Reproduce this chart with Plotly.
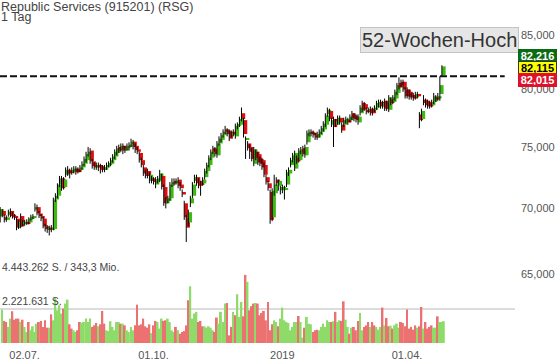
import math
import pandas as pd
import plotly.graph_objects as go

# ---------------- data ----------------
HOLIDAYS = ["2018-07-04", "2018-09-03", "2018-11-22", "2018-12-05", "2018-12-25",
            "2019-01-01", "2019-01-21", "2019-02-18", "2019-04-19"]
DATES = list(pd.bdate_range("2018-06-15", "2019-04-26", freq="C", holidays=HOLIDAYS).strftime("%Y-%m-%d"))

TICK_DATES = ["2018-07-02", "2018-10-01", "2019-01-02", "2019-04-01"]
TICK_LABELS = ["02.07.", "01.10.", "2019", "01.04."]

OPEN = [69.38,69.80,69.30,69.10,69.50,69.80,69.50,69.40,69.20,68.55,
69.40,68.80,68.80,68.95,68.90,69.20,69.30,69.90,70.10,69.60,
69.40,69.20,68.60,68.35,68.50,68.35,68.40,70.70,71.00,71.90,
72.40,71.70,72.70,73.10,73.00,72.90,73.00,73.20,73.10,73.10,
73.30,73.60,73.90,74.40,74.70,73.80,73.50,73.30,73.50,73.40,
73.30,73.10,73.30,73.50,73.60,73.90,74.20,74.50,75.00,74.80,
75.10,74.70,74.90,75.00,75.20,75.45,75.10,74.80,74.50,73.90,
73.30,72.90,73.00,72.20,72.40,72.30,71.90,72.20,72.30,72.60,
71.70,70.40,70.60,70.80,71.90,72.20,72.10,72.30,71.90,71.30,
70.40,69.30,68.90,70.40,71.00,72.20,72.50,72.20,72.00,72.00,
72.50,73.00,73.50,74.10,74.90,74.80,74.30,75.30,75.60,76.00,
76.50,76.40,76.30,76.00,76.30,75.90,76.80,76.90,77.90,77.30,
75.60,75.30,75.00,74.70,73.60,74.60,74.40,74.00,73.90,73.50,
72.50,72.00,71.30,69.30,71.20,72.30,71.80,71.45,71.45,71.50,
71.90,72.80,73.50,73.90,73.20,74.10,73.90,74.60,74.90,74.30,
75.40,76.10,76.30,76.20,76.00,75.80,76.00,76.30,76.50,76.90,
77.80,78.10,76.90,77.40,76.90,77.10,77.50,76.90,76.90,77.20,
77.30,77.30,77.90,77.70,77.60,77.10,77.90,78.80,78.70,78.20,
78.10,78.30,78.20,78.20,78.40,78.60,78.90,78.50,79.00,78.80,
78.20,79.10,78.90,79.20,79.70,80.60,80.70,80.70,80.00,80.00,
79.80,79.50,79.50,79.30,79.60,77.80,77.40,79.10,79.00,78.90,
78.80,78.60,78.90,79.30,79.20,79.60,81.30]

HIGH = [70.10,69.95,69.50,69.45,69.90,70.00,69.70,69.55,69.30,69.10,
69.60,69.10,69.10,69.15,69.30,69.50,69.55,70.40,70.30,69.80,
69.55,69.35,68.80,68.70,68.65,68.70,70.85,71.20,72.00,72.60,
72.60,72.50,73.30,73.40,73.20,73.30,73.40,73.40,73.30,73.50,
73.80,74.20,74.60,75.00,74.90,74.00,73.70,73.70,73.70,73.60,
73.50,73.50,73.70,73.80,74.10,74.40,74.80,75.10,75.20,75.30,
75.30,75.10,75.30,75.40,75.70,75.60,75.30,75.00,74.60,74.10,
73.50,73.10,73.20,72.90,72.60,72.50,72.50,72.60,73.10,72.80,
71.90,70.90,71.00,72.10,72.40,72.40,72.40,72.50,72.10,71.50,
70.60,69.50,69.90,71.00,72.10,72.70,72.70,72.40,72.20,72.50,
73.20,73.70,74.30,74.80,75.10,75.00,75.50,75.90,76.20,76.50,
76.80,76.60,76.50,76.40,76.50,77.00,77.10,77.60,78.40,77.50,
75.90,75.50,75.20,74.90,75.00,74.80,74.60,74.20,74.10,73.70,
72.70,72.20,71.50,71.60,72.70,72.50,72.30,71.80,71.90,71.80,
73.10,73.30,74.10,74.50,74.70,74.30,74.90,75.00,75.10,75.20,
76.40,76.50,76.50,76.40,76.20,76.30,76.50,76.80,77.20,77.90,
78.40,78.30,77.50,77.60,77.40,77.70,77.70,77.10,77.50,77.60,
77.50,77.80,78.10,77.90,77.80,77.80,78.60,79.00,78.90,78.40,
78.40,78.50,78.40,78.60,79.00,79.10,79.10,79.00,79.20,79.00,
79.50,79.30,79.50,80.00,80.60,81.10,80.90,80.90,80.20,80.20,
80.00,79.70,79.70,79.80,79.80,78.00,78.30,79.50,79.20,79.10,
79.00,79.10,79.70,79.50,79.70,81.20,82.216]

LOW = [68.90,69.30,68.90,68.95,69.35,69.30,69.20,69.10,68.30,68.40,
68.45,68.60,68.65,68.70,68.75,69.05,69.15,69.75,69.45,69.25,
69.00,68.45,68.20,68.10,67.90,68.15,68.30,70.50,70.80,71.70,
71.40,71.50,72.50,72.60,72.40,72.70,72.80,72.70,72.80,72.90,
73.10,73.40,73.70,74.20,73.60,73.20,73.10,73.10,73.00,72.80,
72.90,72.90,73.10,73.30,73.40,73.70,74.00,74.30,74.50,74.60,
74.40,74.50,74.70,74.70,75.00,74.80,74.50,74.40,73.70,73.30,
72.60,72.40,72.40,72.00,72.00,71.90,71.60,72.00,72.10,71.50,
70.20,70.00,70.40,70.60,71.70,71.80,71.90,71.60,71.40,70.90,
69.10,67.40,68.60,70.10,70.80,72.00,71.80,71.60,71.00,71.80,
72.30,72.80,73.30,73.90,74.40,74.20,74.10,75.10,75.40,75.80,
76.10,75.90,75.50,75.80,75.90,75.70,76.50,76.70,77.20,75.80,
74.00,74.70,74.00,73.80,73.40,73.90,73.50,73.40,73.10,72.50,
71.90,71.40,68.80,69.00,71.00,71.80,71.40,71.10,71.20,70.70,
71.70,72.60,73.30,73.70,73.00,73.60,73.70,74.40,74.20,74.10,
75.20,75.90,75.90,75.80,75.60,75.60,75.80,76.10,76.30,76.70,
77.60,77.20,76.70,75.00,76.70,76.90,76.90,76.20,76.70,77.00,
76.90,77.10,77.30,77.20,77.10,76.90,77.70,78.00,78.10,77.80,
77.90,77.70,77.70,78.00,78.20,78.40,78.30,78.30,78.10,78.10,
78.00,78.60,78.70,79.00,79.50,80.00,80.20,79.80,79.20,79.20,
79.10,79.10,79.00,79.10,79.20,76.60,77.20,78.60,78.40,78.30,
78.30,78.40,78.70,78.90,79.00,79.00,81.20]

CLOSE = [69.93,69.45,69.10,69.30,69.75,69.40,69.30,69.30,68.50,68.95,
68.60,68.90,68.95,68.85,69.20,69.35,69.40,70.10,69.60,69.40,
69.20,68.60,68.40,68.50,68.35,68.50,70.70,71.00,71.90,72.40,
71.60,72.30,73.10,72.80,72.85,73.10,73.20,72.90,73.00,73.30,
73.60,74.00,74.40,74.60,73.80,73.40,73.30,73.50,73.30,73.10,
73.10,73.30,73.50,73.60,73.90,74.20,74.60,74.90,74.70,75.10,
74.70,74.90,75.10,75.20,75.45,75.00,74.75,74.60,73.90,73.50,
72.80,72.60,72.60,72.70,72.20,72.10,72.30,72.40,72.80,71.70,
70.40,70.70,70.80,71.90,72.10,72.00,72.20,71.80,71.60,71.10,
69.30,68.50,69.70,70.80,71.90,72.50,72.00,71.80,71.90,72.30,
73.00,73.50,74.10,74.60,74.60,74.40,75.30,75.70,76.00,76.30,
76.30,76.10,75.70,76.20,76.10,76.80,76.90,77.40,77.40,76.10,
75.70,74.90,74.60,74.00,74.80,74.10,73.70,73.60,73.30,72.70,
72.10,71.60,69.10,71.40,71.90,72.00,72.20,71.70,71.70,71.60,
72.90,73.10,73.90,74.30,74.50,73.80,74.70,74.80,74.40,75.00,
76.20,76.30,76.10,76.00,75.80,76.10,76.30,76.60,77.00,77.70,
78.20,77.40,77.30,76.70,77.20,77.50,77.10,76.40,77.30,77.40,
77.10,77.60,77.50,77.40,77.30,77.60,78.40,78.20,78.30,78.00,
78.25,77.90,77.90,78.40,78.80,78.90,78.50,78.80,78.30,78.30,
79.30,78.80,79.30,79.80,80.40,80.20,80.40,80.00,79.40,79.40,
79.30,79.30,79.20,79.60,79.40,77.30,78.10,78.80,78.60,78.50,
78.50,78.90,79.40,79.10,79.40,80.40,82.115]

# volume in millions of shares
VOLUME_M = [2.18,1.44,1.37,1.05,1.59,2.07,1.52,1.59,1.59,1.37,
1.52,1.05,0.72,1.37,0.83,1.09,0.72,1.26,1.37,1.44,
1.05,1.48,1.00,1.00,1.87,1.48,2.96,2.13,2.46,
1.92,2.24,2.57,2.83,1.22,0.94,0.83,0.72,0.83,1.37,
1.31,1.37,1.59,1.37,1.59,1.05,1.15,1.31,1.09,1.22,
2.09,1.26,0.83,0.78,1.42,1.05,0.83,1.37,1.37,
1.26,1.26,1.15,0.83,0.72,1.05,0.83,1.15,2.50,1.15,
1.22,1.59,1.09,1.00,1.22,0.65,1.15,1.44,1.37,0.94,
1.59,1.44,1.48,1.59,1.37,0.83,0.72,1.05,0.83,
0.61,0.72,0.78,1.15,2.79,3.70,1.59,1.92,2.03,1.37,
1.44,1.09,1.09,1.00,1.09,1.00,0.83,0.72,1.66,1.26,
2.03,1.37,2.57,2.61,0.50,1.05,2.03,1.81,3.18,1.70,
2.68,1.74,4.443262,3.99,2.13,2.40,2.57,2.61,2.57,1.81,
1.96,2.09,1.48,2.68,0.83,1.22,1.48,1.37,1.09,1.59,
2.31,1.48,1.37,1.31,0.83,1.05,1.37,1.37,1.76,1.37,
0.35,1.00,1.70,1.26,1.22,0.72,0.83,0.87,0.83,1.05,
1.26,1.05,1.48,1.37,1.37,1.42,2.03,1.37,1.48,
1.44,2.72,1.52,1.05,0.61,1.00,1.05,0.83,1.44,1.96,
0.83,1.05,1.15,1.37,1.05,1.37,1.15,1.05,0.87,1.05,
2.31,1.15,1.63,1.09,1.13,0.94,1.15,1.26,1.00,
1.37,1.31,1.09,2.18,0.94,1.05,0.87,1.15,1.00,1.09,
2.35,0.94,1.37,0.94,1.05,1.15,1.00,1.00,1.74,1.37,
1.37,1.42]

VOL_MAX_M = 4.443262
VOL_LABEL_TOP = "4.443.262 S. / 343,3 Mio."
VOL_LABEL_HALF = "2.221.631 S."
HIGH_52W = 81.2
PRICE_TICKS = [65, 70, 75, 80, 85]
QUOTE_LABELS = [82.216, 82.115, 82.015]
QUOTE_COLORS = [("#0b6b12", "white"), ("#ffff00", "black"), ("#e0102a", "white")]
TITLE = "Republic Services (915201) (RSG)"
SUBTITLE = "1 Tag"
BADGE = "52-Wochen-Hoch"

N = len(DATES)
assert all(len(a) == N for a in (OPEN, HIGH, LOW, CLOSE, VOLUME_M)), [len(a) for a in (DATES, OPEN, HIGH, LOW, CLOSE, VOLUME_M)]

# ---------------- figure ----------------
idx = list(range(N))
up = [c >= o for o, c in zip(OPEN, CLOSE)]
GREEN, RED = "#3fb814", "#dc1010"
VGREEN, VRED = "#8edb6a", "#ec7272"

W, H = 560, 363
ML, MR, MT, MB = 0, 45, 0, 20
PW, PH = W - ML - MR, H - MT - MB
X_RANGE = [-1.03, 250.8]
Y_RANGE_LOG = [1.7794, 1.9468]

fig = go.Figure()

# candle bodies
fig.add_trace(go.Bar(
    x=idx,
    base=[min(o, c) for o, c in zip(OPEN, CLOSE)],
    y=[max(abs(c - o), 0.05) for o, c in zip(OPEN, CLOSE)],
    width=1.75,
    marker=dict(color=[GREEN if u else RED for u in up], line=dict(width=0)),
    yaxis="y", xaxis="x", hoverinfo="skip", showlegend=False,
))

# wicks
wx, wy = [], []
for i in idx:
    wx += [i - 0.95, i - 0.95, None]
    wy += [LOW[i], HIGH[i], None]
fig.add_trace(go.Scatter(x=wx, y=wy, mode="lines", line=dict(color="black", width=1),
                         yaxis="y", hoverinfo="skip", showlegend=False))

# 52-week-high dashed line
x_end = X_RANGE[0] + (X_RANGE[1] - X_RANGE[0]) * 0.98
fig.add_trace(go.Scatter(x=[X_RANGE[0], x_end], y=[HIGH_52W, HIGH_52W], mode="lines",
                         line=dict(color="#111111", width=2, dash="7px,3px"),
                         yaxis="y", hoverinfo="skip", showlegend=False))

# volume
fig.add_trace(go.Bar(
    x=idx, y=VOLUME_M, width=0.92,
    marker=dict(color=[VGREEN if u else VRED for u in up], line=dict(width=0)),
    yaxis="y2", xaxis="x", hoverinfo="skip", showlegend=False,
))

FONT = "Liberation Sans, Arial, sans-serif"

fig.update_layout(
    width=W, height=H,
    margin=dict(l=ML, r=MR, t=MT, b=MB, autoexpand=False),
    paper_bgcolor="white", plot_bgcolor="white",
    separators=",.",
    barmode="overlay",
    font=dict(family=FONT, size=11, color="#555555"),
    xaxis=dict(
        range=X_RANGE, showgrid=False, zeroline=False, showline=False, automargin=False,
        tickvals=[DATES.index(d) for d in TICK_DATES], ticktext=TICK_LABELS,
        ticks="", tickfont=dict(size=11, color="#555555"), ticklabelstandoff=4,
    ),
    yaxis=dict(
        type="log", range=Y_RANGE_LOG, domain=[0, 1], side="right", anchor="x", automargin=False,
        showgrid=False, zeroline=False, showline=False,
        tickvals=PRICE_TICKS, tickformat=".3f", ticks="",
        tickfont=dict(size=11, color="#555555"), ticklabelstandoff=5,
    ),
    yaxis2=dict(
        domain=[0, 69.0 / PH], range=[0, 4.5], anchor="x", automargin=False,
        showgrid=True, gridcolor="#dcdcdc", gridwidth=1.5,
        tickvals=[VOL_MAX_M / 2, VOL_MAX_M], showticklabels=False,
        zeroline=False, showline=False, ticks="",
    ),
)

ann = []
ann.append(dict(text=TITLE, xref="paper", yref="paper", x=0, y=(PH - 7) / PH, xanchor="left", yanchor="middle",
                showarrow=False, font=dict(size=12.5, color="#444444", family=FONT), xshift=-1))
ann.append(dict(text=SUBTITLE, xref="paper", yref="paper", x=0, y=(PH - 17.5) / PH, xanchor="left", yanchor="middle",
                showarrow=False, font=dict(size=12.5, color="#444444", family=FONT), xshift=-1))
ann.append(dict(text=VOL_LABEL_TOP, xref="paper", yref="y2", x=0, y=VOL_MAX_M, xanchor="left", yanchor="bottom",
                showarrow=False, font=dict(size=10.5, color="#444444", family=FONT)))
ann.append(dict(text=VOL_LABEL_HALF, xref="paper", yref="y2", x=0, y=VOL_MAX_M / 2, xanchor="left", yanchor="bottom",
                showarrow=False, font=dict(size=10.5, color="#444444", family=FONT)))
ann.append(dict(text=BADGE, xref="paper", yref="paper", x=439.5 / PW, y=(PH - 39.5) / PH,
                xanchor="center", yanchor="middle", showarrow=False,
                font=dict(size=20, color="#333333", family=FONT),
                bgcolor="#e6e6e6", bordercolor="#c4c4c4", borderwidth=1, borderpad=1))
for k, (val, (bg, fg)) in enumerate(zip(QUOTE_LABELS, QUOTE_COLORS)):
    ycen = 56 + 12 * k
    ann.append(dict(text=("%.3f" % val).replace(".", ","), xref="paper", yref="paper",
                    x=537.5 / PW, y=(PH - ycen) / PH, xanchor="center", yanchor="middle",
                    showarrow=False, width=35, height=10, borderpad=1,
                    font=dict(size=11, color=fg, family=FONT, weight="bold"),
                    bgcolor=bg, bordercolor="#333333" if bg == "#ffff00" else bg, borderwidth=1))
fig.update_layout(annotations=ann)

fig.write_html("out.html", config={"displayModeBar": False},
               post_script="document.body.style.margin='0';document.body.style.overflow='hidden';")
